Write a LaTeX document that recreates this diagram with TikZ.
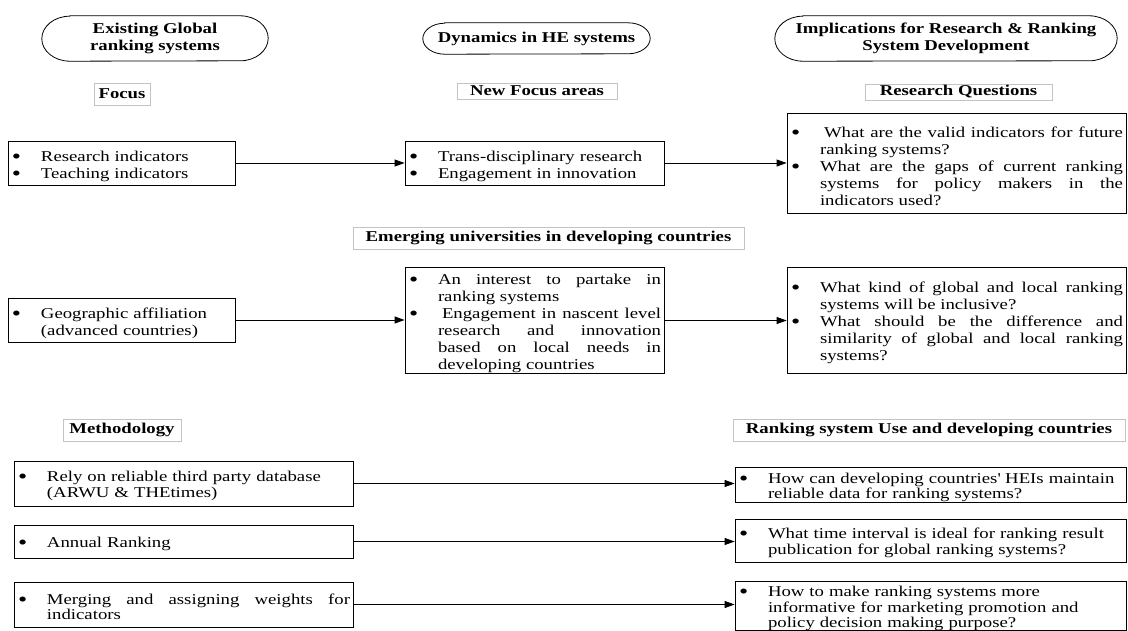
\documentclass[tikz,border=0pt]{standalone}
\usepackage{fontspec}
\setmainfont{Liberation Serif}[FakeStretch=1.25]
\usetikzlibrary{arrows.meta,shadows}
\definecolor{shc}{RGB}{185,200,222}
\definecolor{lblc}{RGB}{195,195,195}
\newcommand\bul{\par\noindent\hangindent=30pt\hangafter=1\makebox[30pt][l]{\hspace{1pt}\raisebox{-1.8pt}[0pt][0pt]{\fontsize{21}{17}\selectfont\textbullet}}}
\begin{document}
\begin{tikzpicture}[x=1pt,y=-1pt,
  font=\fontsize{15}{17}\selectfont,
  cbox/.style={draw=black, line width=0.8pt, fill=white, inner xsep=3pt, inner ysep=0pt,
    drop shadow={shadow xshift=1.2pt, shadow yshift=-1.2pt, fill=shc, opacity=0.7}},
  cboxb/.style={cbox, font=\fontsize{15}{15.5}\selectfont},
  lbox/.style={draw=lblc, line width=0.8pt, fill=white, inner sep=0pt,
    font=\fontsize{15}{17}\selectfont\bfseries,
    drop shadow={shadow xshift=1pt, shadow yshift=-1pt, fill=shc, opacity=0.5}},
  hbox/.style={inner sep=0pt, align=center, font=\fontsize{15}{17}\selectfont\bfseries},
  stad/.style={line width=0.8pt},
  arr/.style={-{Triangle[length=10pt,width=7pt]}, line width=0.8pt}]
\fill[white] (0,0) rectangle (1128,631);
\useasboundingbox (0,0) rectangle (1128,631);

% headers
\node[hbox, minimum width=226pt, minimum height=45pt] (h1) at (155,38.5) {Existing Global\\ranking systems};
\node[hbox, minimum width=227pt, minimum height=31pt] (h2) at (536.5,38.5) {Dynamics in HE systems};
\node[hbox, minimum width=342pt, minimum height=45pt] (h3) at (946,38.5) {Implications for Research \& Ranking\\System Development};
\draw[stad] ([xshift=28pt]h1.north west) -- ([xshift=-28pt]h1.north east)
  arc[start angle=90, end angle=-90, x radius=28pt, y radius=22.5pt]
  -- ([xshift=28pt]h1.south west)
  arc[start angle=270, end angle=90, x radius=28pt, y radius=22.5pt] -- cycle;
\draw[stad] ([xshift=22pt]h2.north west) -- ([xshift=-22pt]h2.north east)
  arc[start angle=90, end angle=-90, x radius=22pt, y radius=15.5pt]
  -- ([xshift=22pt]h2.south west)
  arc[start angle=270, end angle=90, x radius=22pt, y radius=15.5pt] -- cycle;
\draw[stad] ([xshift=28pt]h3.north west) -- ([xshift=-28pt]h3.north east)
  arc[start angle=90, end angle=-90, x radius=28pt, y radius=22.5pt]
  -- ([xshift=28pt]h3.south west)
  arc[start angle=270, end angle=90, x radius=28pt, y radius=22.5pt] -- cycle;

% labels
\node[lbox, minimum width=56pt, minimum height=22pt] (l1) at (122,94) {Focus};
\node[lbox, minimum width=160pt, minimum height=16pt] (l2) at (537,91) {New Focus areas};
\node[lbox, minimum width=187pt, minimum height=16pt] (l3) at (958.5,92) {Research Questions};
\node[lbox, minimum width=391pt, minimum height=22pt] (l4) at (548.5,238) {Emerging universities in developing countries};
\node[lbox, minimum width=118pt, minimum height=22pt] (l5) at (122,430) {Methodology};
\node[lbox, minimum width=392pt, minimum height=22pt] (l6) at (929,430) {Ranking system Use and developing countries};

% row 1
\node[cbox, text width=221pt, minimum height=44pt, align=left] (a1) at (121.5,163)
  {\bul Research indicators\bul Teaching indicators\par};
\node[cbox, text width=253pt, minimum height=44pt, align=left] (b1) at (534.5,163)
  {\bul Trans-disciplinary research\bul Engagement in innovation\par};
\node[cbox, text width=333pt, minimum height=100pt, align=justify] (c1) at (956.5,163)
  {\bul\hspace{4pt}What are the valid indicators for future\linebreak ranking systems?%
   \bul What are the gaps of current ranking\linebreak systems for policy makers in the\linebreak indicators used?\par};

% row 2
\node[cbox, text width=221pt, minimum height=44pt, align=left] (a2) at (121.5,320)
  {\bul Geographic affiliation\newline (advanced countries)\par};
\node[cbox, text width=253pt, minimum height=101pt, align=justify] (b2) at (534.5,320.5)
  {\bul An interest to partake in\linebreak ranking systems%
   \bul\hspace{4pt}Engagement in nascent level\linebreak research and innovation\linebreak based on local needs in\linebreak developing countries\par};
\node[cbox, text width=333pt, minimum height=106pt, align=justify] (c2) at (956.5,320)
  {\bul What kind of global and local ranking\linebreak systems will be inclusive?%
   \bul What should be the difference and\linebreak similarity of global and local ranking\linebreak systems?\par};

% methodology rows
\node[cboxb, text width=333pt, minimum height=45pt, align=left] (m1) at (183.5,483.5)
  {\bul Rely on reliable third party database\newline\hspace{3pt}(ARWU \& THEtimes)\par};
\node[cboxb, text width=333pt, minimum height=33pt, align=left] (m2) at (183.5,541.5)
  {\bul Annual Ranking\par};
\node[cboxb, text width=333pt, minimum height=45pt, align=justify] (m3) at (183.5,604.5)
  {\bul Merging and assigning weights for\linebreak indicators\par};
\node[cboxb, text width=385pt, minimum height=30pt, align=left] (r1) at (930.5,485)
  {\bul How can developing countries\textquotesingle{} HEIs maintain\newline reliable data for ranking systems?\par};
\node[cboxb, text width=385pt, minimum height=43pt, align=left] (r2) at (930.5,540.5)
  {\bul What time interval is ideal for ranking result\newline publication for global ranking systems?\par};
\node[cboxb, text width=385pt, minimum height=47pt, align=left] (r3) at (930.5,606)
  {\bul How to make ranking systems more\newline informative for marketing promotion and\newline policy decision making purpose?\par};

% arrows
\draw[arr] (a1.east) -- (b1.west);
\draw[arr] (b1.east) -- (b1.east -| c1.west);
\draw[arr] (a2.east) -- (a2.east -| b2.west);
\draw[arr] (b2.east) -- (b2.east -| c2.west);
\draw[arr] (m1.east) -- (m1.east -| r1.west);
\draw[arr] (m2.east) -- (m2.east -| r2.west);
\draw[arr] (m3.east) -- (m3.east -| r3.west);
\end{tikzpicture}
\end{document}
